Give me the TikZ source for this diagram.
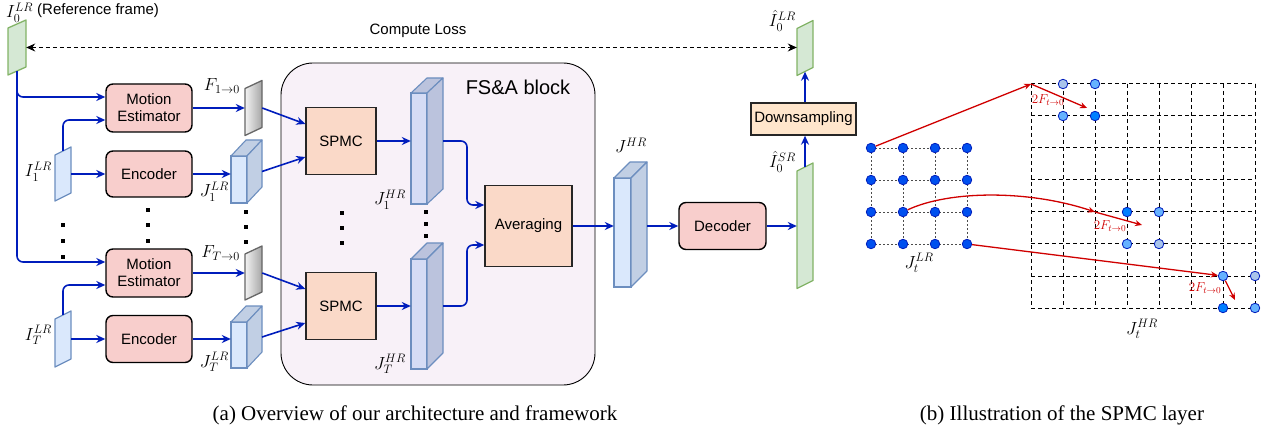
\RequirePackage{fix-cm}
\documentclass[tikz,border=0pt]{standalone}
\usepackage[no-math]{fontspec}
\setmainfont{Liberation Serif}
\newfontfamily\sansf{Liberation Sans}
\usetikzlibrary{arrows.meta}
\definecolor{arrblue}{HTML}{001DBC}
\definecolor{grfill}{HTML}{D5E8D4}
\definecolor{grline}{HTML}{82B366}
\definecolor{blfill}{HTML}{DAE8FC}
\definecolor{blline}{HTML}{6C8EBF}
\definecolor{blside}{HTML}{C1CFE4}
\definecolor{lvfill}{HTML}{D5DCF5}
\definecolor{lvside}{HTML}{BBC3DD}
\definecolor{redfill}{HTML}{F8CECC}
\definecolor{peach}{HTML}{FAD9C8}
\definecolor{orfill}{HTML}{FFE6CC}
\definecolor{fsafill}{HTML}{F8F1F8}
\definecolor{redarr}{HTML}{D00000}
\definecolor{dotdark}{HTML}{0050EF}
\definecolor{dotbright}{HTML}{007FFF}
\definecolor{dotmed}{HTML}{66B2FF}
\definecolor{dotpale}{HTML}{A9C4EB}
% slanted frame: #1 name, #2 cx, #3 cy, #4 half width, #5 half height, #6 slant, #7 style
\newcommand\slab[7]{%
  \path[#7] (#2-#4,#3-#5+#6) -- (#2+#4,#3-#5-#6) -- (#2+#4,#3+#5-#6) -- (#2-#4,#3+#5+#6) -- cycle;
  \node[inner sep=0,minimum width={(2*#4)*1pt},minimum height={(2*#5)*1pt}] (#1) at (#2,#3) {};}
% cuboid: #1 name, #2 x0, #3 y0, #4 x1, #5 y1, #6 dx, #7 dy, #8 front fill, #9 side fill
\newcommand\cuboid[9]{%
  \path[fill=#8,draw=blline,line width=1.1pt] (#2,#3) rectangle (#4,#5);
  \path[fill=#9,draw=blline,line width=1.1pt,line join=round] (#2,#3) -- (#2+#6,#3+#7) -- (#4+#6,#3+#7) -- (#4,#3) -- cycle;
  \path[fill=#9,draw=blline,line width=1.1pt,line join=round] (#4,#3) -- (#4+#6,#3+#7) -- (#4+#6,#5+#7) -- (#4,#5) -- cycle;
  \node[inner sep=0,minimum width={(#4-#2)*1pt},minimum height={(#5-#3)*1pt}] (#1) at ({(#2+#4)/2},{(#3+#5)/2}) {};
  \coordinate (#1R) at (#4+#6,{(#3+#5)/2+#7/2});}
\tikzset{
  arr/.style={draw=arrblue,line width=1.6pt,-{Stealth[length=9pt,width=8pt]}},
  boxr/.style={draw=black,line width=1.4pt,fill=redfill,rounded corners=7pt,font=\sansf\fontsize{15}{17}\selectfont,align=center,inner sep=0},
  boxp/.style={draw=black!85,line width=1.4pt,fill=peach,font=\sansf\fontsize{15}{17}\selectfont,align=center,inner sep=0},
  mlab/.style={font=\fontsize{17.5}{20}\selectfont,inner sep=0},
  txt/.style={font=\sansf\fontsize{15}{17}\selectfont,inner sep=0},
  lrdot/.style={circle,draw=arrblue,line width=0.8pt,fill=dotdark,minimum size=9.5pt,inner sep=0},
  hrdot/.style={circle,draw=arrblue,line width=0.8pt,minimum size=9.5pt,inner sep=0},
  redarrow/.style={draw=redarr,line width=1.3pt,-{Stealth[length=7pt,width=6pt]}},
  redlab/.style={text=redarr,font=\fontsize{13}{15}\selectfont,inner sep=0},
  lrgrid/.style={draw=black!70,line width=0.8pt,dash pattern=on 2pt off 2pt},
  hrgrid/.style={draw=black,line width=1pt,dash pattern=on 4pt off 3pt},
  greenslab/.style={fill=grfill,draw=grline,line width=1.3pt,line join=round},
  blueslab/.style={fill=blfill,draw=blline,line width=1.3pt,line join=round},
  grayslab/.style={left color=black!5,right color=black!35,draw=black!60,line width=1.3pt,line join=round},
}
\begin{document}
\begin{tikzpicture}[x=1pt,y=-1pt]
\useasboundingbox (0,0) rectangle (1265,430);
% FS&A block
\node[draw=black,line width=0.9pt,fill=fsafill,rounded corners=32pt,minimum width=314pt,minimum height=322pt,inner sep=0] (fsa) at (438,224) {};
\node[txt,font=\sansf\fontsize{20}{24}\selectfont] (fsalab) at (518,87) {FS\&A block};
% frames
\slab{i0}{17}{47.5}{9}{23.5}{4}{greenslab}
\slab{lrhat}{805}{48}{8}{23.5}{4}{greenslab}
\slab{srhat}{805}{225.75}{8}{58.75}{4}{greenslab}
\slab{i1}{63}{174}{8}{23}{4}{blueslab}
\slab{iT}{63}{339}{8}{24}{4}{blueslab}
\slab{f1}{253.5}{108}{8.5}{23.5}{4}{grayslab}
\slab{fT}{253.5}{273}{8.5}{23}{4}{grayslab}
% cuboids
\cuboid{j1lr}{231}{156}{247}{203}{15}{-16}{blfill}{blside}
\cuboid{jTlr}{231}{322}{247}{368}{15}{-16}{blfill}{blside}
\cuboid{j1hr}{411}{93}{427}{204}{16}{-15}{lvfill}{lvside}
\cuboid{jThr}{411}{259}{427}{369}{16}{-16}{lvfill}{lvside}
\cuboid{jhr}{614}{178}{631}{287}{16}{-16}{blfill}{blside}
% boxes
\node[boxr,minimum width=86pt,minimum height=48pt] (me1) at (149,108) {Motion\\Estimator};
\node[boxr,minimum width=86pt,minimum height=46pt] (enc1) at (149,174) {Encoder};
\node[boxr,minimum width=86pt,minimum height=48pt] (met) at (149,273) {Motion\\Estimator};
\node[boxr,minimum width=86pt,minimum height=47pt] (encT) at (149,339) {Encoder};
\node[boxp,minimum width=70pt,minimum height=67pt] (spmc1) at (341,141) {SPMC};
\node[boxp,minimum width=70pt,minimum height=67pt] (spmcT) at (341,306) {SPMC};
\node[boxp,minimum width=87pt,minimum height=81pt] (avg) at (528.5,226) {Averaging};
\node[boxp,fill=orfill,minimum width=105pt,minimum height=32pt] (down) at (803.5,119) {Downsampling};
\node[boxr,minimum width=87pt,minimum height=47pt] (dec) at (722.5,226) {Decoder};
% labels
\node[mlab,anchor=base west] (li0) at (6,18) {$I_0^{LR}$};
\node[txt,anchor=base west] (lref) at (37,15) {(Reference frame)};
\node[mlab,anchor=base east] (llrhat) at (796,27) {$\hat{I}_0^{LR}$};
\node[mlab,anchor=base east] (lsrhat) at (796,168) {$\hat{I}_0^{SR}$};
\node[mlab,anchor=base] (ljhr) at (631,153) {$J^{HR}$};
\node[mlab,anchor=base east] (lf1) at (240,91) {$F_{1\rightarrow 0}$};
\node[mlab,anchor=base east] (lfT) at (240,258) {$F_{T\rightarrow 0}$};
\node[mlab,anchor=base east] (lj1lr) at (229,197) {$J_1^{LR}$};
\node[mlab,anchor=base east] (ljTlr) at (229,367) {$J_T^{LR}$};
\node[mlab,anchor=base east] (li1) at (52,177) {$I_1^{LR}$};
\node[mlab,anchor=base east] (liT) at (52,340) {$I_T^{LR}$};
\node[mlab,anchor=base east] (lj1hr) at (406,205) {$J_1^{HR}$};
\node[mlab,anchor=base east] (ljThr) at (406,369) {$J_T^{HR}$};
% vertical dots
\foreach \x/\y in {63/225,63/241,63/257,148/210,148/225,148/241,246/212,246/227,246/242,342/213,342/228,342/243,426/212,426/224,426/236}
  \fill (\x-1.7,\y-1.7) rectangle (\x+1.7,\y+1.7);
% connectors
\draw[arr,rounded corners=6pt] (i0.south) |- (me1.west |- 0,97);
\draw[arr,rounded corners=6pt] (i0.south) |- (met.west |- 0,262);
\draw[arr,rounded corners=6pt] (i1.north) |- (me1.west |- 0,120);
\draw[arr] (i1.east) -- (enc1.west);
\draw[arr,rounded corners=6pt] (iT.north) |- (met.west |- 0,285);
\draw[arr] (iT.east) -- (iT.east -| encT.west);
\draw[arr] (me1.east) -- (me1.east -| f1.west);
\draw[arr] (enc1.east) -- (enc1.east -| j1lr.west);
\draw[arr] (met.east) -- (met.east -| fT.west);
\draw[arr] (encT.east) -- (encT.east -| jTlr.west);
\draw[arr] (f1.east) -- (spmc1.west |- 0,124);
\draw[arr] (j1lrR) -- (spmc1.west |- 0,157);
\draw[arr] (fT.east) -- (spmcT.west |- 0,289);
\draw[arr] (jTlrR) -- (spmcT.west |- 0,323);
\draw[arr] (spmc1.east) -- (spmc1.east -| j1hr.west);
\draw[arr] (spmcT.east) -- (spmcT.east -| jThr.west);
\draw[arr,rounded corners=6pt] (j1hrR |- spmc1.east) -- (467,141) |- (avg.west |- 0,205);
\draw[arr,rounded corners=6pt] (jThrR |- spmcT.east) -- (467,306) |- (avg.west |- 0,245);
\draw[arr] (avg.east) -- (avg.east -| jhr.west);
\draw[arr] (jhrR |- dec.west) -- (dec.west);
\draw[arr] (dec.east) -- (dec.east -| srhat.west);
\draw[arr] (srhat.north) -- (srhat.north |- down.south);
\draw[arr] (lrhat.south |- down.north) -- (lrhat.south);
\draw[black,line width=1.2pt,dash pattern=on 4pt off 3pt,{Stealth[length=9pt,width=8pt]}-{Stealth[length=9pt,width=8pt]}] (i0.east) -- (i0.east -| lrhat.west);
\node[txt] (closs) at (418,31) {Compute Loss};
% ---------- SPMC illustration ----------
\foreach \k in {0,...,7} {
  \draw[hrgrid] (1031+32*\k,84) -- (1031+32*\k,308);
  \draw[hrgrid] (1031,84+32*\k) -- (1255,84+32*\k);
}
\foreach \k in {0,...,3} {
  \draw[lrgrid] (871+32*\k,148) -- (871+32*\k,244);
  \draw[lrgrid] (871,148+32*\k) -- (967,148+32*\k);
}
\foreach \i in {0,...,3} \foreach \j in {0,...,3}
  \node[lrdot] (l\i\j) at (871+32*\j,148+32*\i) {};
\node[hrdot,fill=dotpale] (ha1) at (1063,84) {};
\node[hrdot,fill=dotmed] (ha2) at (1095,84) {};
\node[hrdot,fill=dotmed] (ha3) at (1063,116) {};
\node[hrdot,fill=dotbright] (ha4) at (1095,116) {};
\node[hrdot,fill=dotbright] (hb1) at (1127,212) {};
\node[hrdot,fill=dotmed] (hb2) at (1159,212) {};
\node[hrdot,fill=dotmed] (hb3) at (1127,244) {};
\node[hrdot,fill=dotpale] (hb4) at (1159,244) {};
\node[hrdot,fill=dotmed] (hc1) at (1223,276) {};
\node[hrdot,fill=dotpale] (hc2) at (1255,276) {};
\node[hrdot,fill=dotbright] (hc3) at (1223,308) {};
\node[hrdot,fill=dotmed] (hc4) at (1255,308) {};
\coordinate (pa) at (1031,84);
\coordinate (pa2) at (1087,108);
\coordinate (pb) at (1095,212);
\coordinate (pb2) at (1142,225);
\coordinate (pc2) at (1235,300);
\draw[redarrow] (l00) -- (pa);
\draw[redarrow] (pa) -- (pa2);
\draw[redarrow] (l21) .. controls (950,190) and (1030,190) .. (pb);
\draw[redarrow] (pb) -- (pb2);
\draw[redarrow] (l33) -- (hc1);
\draw[redarrow] (hc1) -- (pc2);
\node[redlab] (ra) at (1048,100) {$2F_{t\rightarrow 0}$};
\node[redlab] (rb) at (1110,226) {$2F_{t\rightarrow 0}$};
\node[redlab] (rc) at (1205,288) {$2F_{t\rightarrow 0}$};
\node[mlab,anchor=base] (ljtlr) at (919,268) {$J_t^{LR}$};
\node[mlab,anchor=base] (ljthr) at (1142,334) {$J_t^{HR}$};
% captions
\node[font=\fontsize{21}{25}\selectfont,anchor=base,inner sep=0] (capa) at (415,420) {(a) Overview of our architecture and framework};
\node[font=\fontsize{21}{25}\selectfont,anchor=base,inner sep=0] (capb) at (1062,420) {(b) Illustration of the SPMC layer};
\end{tikzpicture}
\end{document}
